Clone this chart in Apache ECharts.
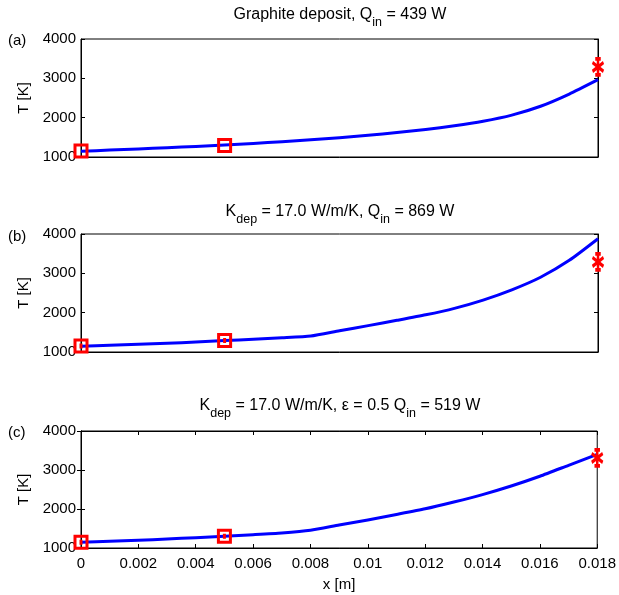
<!DOCTYPE html>
<html>
<head>
<meta charset="utf-8">
<script src="https://cdn.jsdelivr.net/npm/echarts@6/dist/echarts.min.js"></script>
<style>
  html, body { margin: 0; padding: 0; background: #fff; }
  #chart { width: 619px; height: 595px; }
</style>
</head>
<body>
<div id="chart"></div>
<script>
  // position along the deposit [m]
  const xs = [0, 0.001, 0.002, 0.003, 0.004, 0.005, 0.006, 0.007, 0.008, 0.009,
              0.010, 0.011, 0.012, 0.013, 0.014, 0.015, 0.016, 0.017, 0.018];
  // temperature profiles [K]
  const tempA = [1145, 1175, 1205, 1235, 1268, 1305, 1345, 1390, 1440, 1490,
                 1550, 1620, 1700, 1795, 1910, 2065, 2290, 2600, 2965];
  const tempB = [1145, 1170, 1195, 1222, 1255, 1290, 1325, 1360, 1405, 1540,
                 1670, 1805, 1945, 2110, 2320, 2580, 2900, 3330, 3880];
  const tempC = [1150, 1175, 1200, 1230, 1265, 1300, 1340, 1385, 1455, 1590,
                 1720, 1860, 2005, 2180, 2370, 2590, 2840, 3120, 3400];

  // measured points
  const squareX = [0, 0.005];
  const squareA = [1150, 1292];
  const squareB = [1150, 1292];
  const squareC = [1150, 1300];
  const starX = 0.018;
  const starT = [3290, 3290, 3310];

  const yTicks = [1000, 2000, 3000, 4000];
  const xTicks = [0, 0.002, 0.004, 0.006, 0.008, 0.01, 0.012, 0.014, 0.016, 0.018];

  const titles = [
    '{n|Graphite deposit, Q}{s|in}{n| = 439 W}',
    '{n|K}{s|dep}{n| = 17.0 W/m/K, Q}{s|in}{n| = 869 W}',
    '{n|K}{s|dep}{n| = 17.0 W/m/K, \u03b5 = 0.5 Q}{s|in}{n| = 519 W}'
  ];
  const panelLabels = ['(a)', '(b)', '(c)'];

  const font = "'Liberation Sans', Arial, Helvetica, sans-serif";
  const grids = [
    { left: 81, width: 517, top: 39, height: 118 },
    { left: 81, width: 517, top: 234, height: 118 },
    { left: 81, width: 517, top: 431, height: 117 }
  ];
  const titleY = [15, 212, 406];
  const labelY = [41, 237, 433];

  const chart = echarts.init(document.getElementById('chart'));

  const xAxis = [];
  const yAxis = [];
  const series = [];
  const temps = [tempA, tempB, tempC];
  const squares = [squareA, squareB, squareC];

  const squarePlain = 'path://M0,0L12,0L12,12L0,12Z';
  const squareBar = 'path://M0,0L12,0L12,12L0,12Z M6,3.5L6,8.5';
  const starPath = 'path://M0,4L12,14M12,4L0,14M6,0L6,18M3,0L9,0M3,18L9,18';

  grids.forEach((g, i) => {
    const last = i === 2;
    xAxis.push({
      type: 'value', gridIndex: i, min: xTicks[0], max: xTicks[xTicks.length - 1], interval: 0.002,
      axisLine: { show: true, lineStyle: { color: '#000', width: 1 } },
      axisTick: { show: last, inside: true, length: 4, lineStyle: { color: '#000' } },
      axisLabel: {
        show: last, color: '#000', fontSize: 15, fontFamily: font, margin: 8,
        formatter: v => String(+v.toFixed(3))
      },
      splitLine: { show: false },
      name: last ? 'x [m]' : '', nameLocation: 'middle', nameGap: 29,
      nameTextStyle: { color: '#000', fontSize: 15, fontFamily: font }
    });
    if (last) {
      xAxis.push({
        type: 'value', gridIndex: i, position: 'top', min: 0, max: 0.018, interval: 0.002,
        axisLine: { show: true, lineStyle: { color: '#000' } },
        axisTick: { show: true, inside: true, length: 4, lineStyle: { color: '#000' } },
        axisLabel: { show: false }, splitLine: { show: false }
      });
    }
    yAxis.push({
      type: 'value', gridIndex: i, min: yTicks[0], max: yTicks[yTicks.length - 1], interval: 1000,
      axisLine: { show: true, lineStyle: { color: '#000' } },
      axisTick: { show: true, inside: true, length: 4, lineStyle: { color: '#000' } },
      axisLabel: { color: '#000', fontSize: 15, fontFamily: font, margin: 5, formatter: v => String(v) },
      splitLine: { show: false },
      name: 'T [K]', nameLocation: 'middle', nameGap: 41,
      nameTextStyle: { color: '#000', fontSize: 15, fontFamily: font }
    });
    yAxis.push({
      type: 'value', gridIndex: i, position: 'right', min: 1000, max: 4000, interval: 1000,
      axisLine: { show: true, lineStyle: { color: '#000' } },
      axisTick: { show: true, inside: true, length: 4, lineStyle: { color: '#000' } },
      axisLabel: { show: false }, splitLine: { show: false }
    });
  });

  // x axis index per grid: 0, 1, 2 (grid 2 also has a top axis at index 3)
  const xIdx = [0, 1, 2];
  temps.forEach((t, i) => {
    series.push({
      type: 'line', xAxisIndex: xIdx[i], yAxisIndex: i * 2,
      data: xs.map((x, k) => [x, t[k]]),
      showSymbol: false, smooth: 0.2, z: 2,
      lineStyle: { color: '#0000ff', width: 3, join: 'round' }
    });
    series.push({
      type: 'scatter', xAxisIndex: xIdx[i], yAxisIndex: i * 2,
      data: squareX.map((x, k) => [x, squares[i][k]]),
      symbol: i === 0 ? squarePlain : squareBar, symbolSize: 12, clip: false, z: 3,
      itemStyle: { color: 'transparent', borderColor: '#ff0000', borderWidth: 3, opacity: 1 }
    });
    series.push({
      type: 'scatter', xAxisIndex: xIdx[i], yAxisIndex: i * 2,
      data: [[starX, starT[i]]],
      symbol: starPath, symbolSize: [11, 16], clip: false, z: 3,
      itemStyle: { color: 'transparent', borderColor: '#ff0000', borderWidth: 3, opacity: 1 }
    });
  });

  const graphic = [];
  titles.forEach((t, i) => {
    graphic.push({
      type: 'text', x: 340, y: titleY[i],
      style: {
        text: t, align: 'center', verticalAlign: 'middle', fill: '#000',
        rich: {
          n: { fontSize: 16, fontFamily: font, fill: '#000', color: '#000' },
          s: { fontSize: 12.5, fontFamily: font, fill: '#000', color: '#000', padding: [16, 0, 0, 0] }
        }
      }
    });
    graphic.push({
      type: 'text', x: 8, y: labelY[i],
      style: { text: panelLabels[i], fontSize: 15, fontFamily: font, fill: '#000', verticalAlign: 'middle' }
    });
  });

  chart.setOption({
    animation: false,
    backgroundColor: '#fff',
    grid: grids.map(g => Object.assign({ show: true, borderColor: '#000', borderWidth: 1, backgroundColor: '#fff' }, g)),
    xAxis: xAxis,
    yAxis: yAxis,
    series: series,
    graphic: graphic
  });
</script>
</body>
</html>
